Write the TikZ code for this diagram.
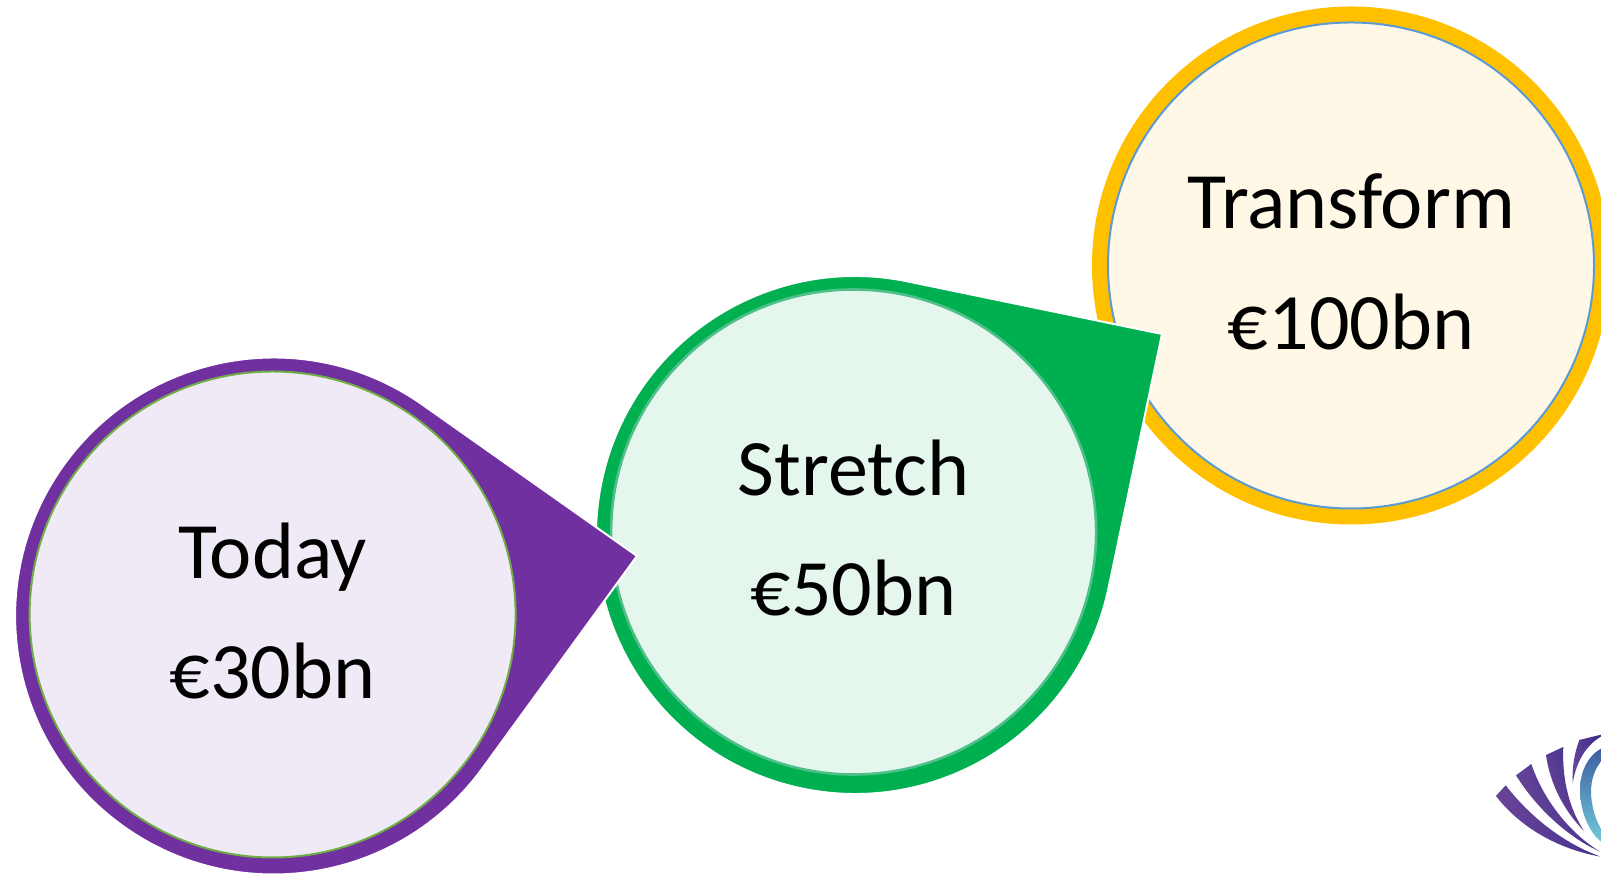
\documentclass[tikz,border=0pt]{standalone}
\usepackage{fontspec}
\usetikzlibrary{calc}
\setmainfont{Carlito}
\definecolor{pur}{HTML}{7030A0}
\definecolor{purl}{HTML}{F0EAF6}
\definecolor{grn}{HTML}{00B050}
\definecolor{grnl}{HTML}{E5F6ED}
\definecolor{grnb}{HTML}{4DC08A}
\definecolor{yel}{HTML}{FFC000}
\definecolor{yell}{HTML}{FFF8E6}
\definecolor{blu}{HTML}{5B9BD5}
\definecolor{lgr}{HTML}{70AD47}
\definecolor{bladeend}{HTML}{3F2F8F}
\definecolor{bladestart}{HTML}{6D4698}
\definecolor{bluetop}{HTML}{3F5FA0}
\definecolor{bluebot}{HTML}{6FC8DA}
\tikzset{
  x=1pt,y=1pt,
  drop/.style={line width=2pt,draw=white,line join=miter},
  inner/.style={line width=2pt},
  lbl/.style={font=\fontsize{80}{120.5}\selectfont,align=center,text=black,inner sep=0pt},
  blade/.style={left color=bladestart,right color=bladeend,shading angle=110,draw=none},
}
\begin{document}
\begin{tikzpicture}
\useasboundingbox (0,0) rectangle (1601,874);
\fill[white] (0,0) rectangle (1601,874);
\clip (0,0) rectangle (1601,874);
% Transform
\fill[yel] (1351,608.5) circle[radius=259];
\filldraw[inner,fill=yell,draw=blu] (1351,608.5) circle[radius=243];
% Stretch
\filldraw[drop,fill=grn] (1162,540) -- ($(855,339)+(78.4:259)$) arc[start angle=78.4,end angle=348,radius=259] -- cycle;
\filldraw[inner,line width=2.6pt,fill=grnl,draw=grnb] (853.6,342) circle[radius=242.5];
% Today
\filldraw[drop,fill=pur] (637,318) -- ($(273.6,258)+(54.8:258.5)$) arc[start angle=54.8,end angle=324,radius=258.5] -- cycle;
\filldraw[inner,fill=purl,draw=lgr] (272.6,259.5) circle[radius=243];
% labels
\node[lbl] (transform) at (1351,612) {Transform\\€100bn};
\node[lbl] (stretch) at (853.6,346) {Stretch\\€50bn};
\node[lbl] (today) at (272.6,263) {Today\\€30bn};
% logo
\begin{scope}[shift={(1440,174)},x=0.3333pt,y=-0.3333pt]
\shade[blade] (168,288) -- (197,256) .. controls (270,350) and (370,430) .. (482,470) .. controls (340,445) and (230,370) .. cycle;
\shade[blade] (228,226) -- (274,192) .. controls (310,300) and (390,400) .. (480,455) .. controls (370,405) and (280,310) .. cycle;
\shade[blade] (318,165) -- (370,141) .. controls (365,240) and (390,330) .. (432,393) .. controls (370,330) and (330,250) .. cycle;
\shade[blade] (418,120) -- (483,104) -- (483,110) .. controls (440,135) and (410,180) .. (398,250) .. controls (395,200) and (405,155) .. cycle;
\shade[top color=bluetop,bottom color=bluebot] (483,146) .. controls (440,170) and (420,220) .. (420,270) .. controls (420,330) and (445,395) .. (483,425) -- (483,385) .. controls (465,360) and (453,310) .. (453,275) .. controls (453,240) and (465,205) .. (483,185) -- cycle;
\end{scope}
\end{tikzpicture}
\end{document}
